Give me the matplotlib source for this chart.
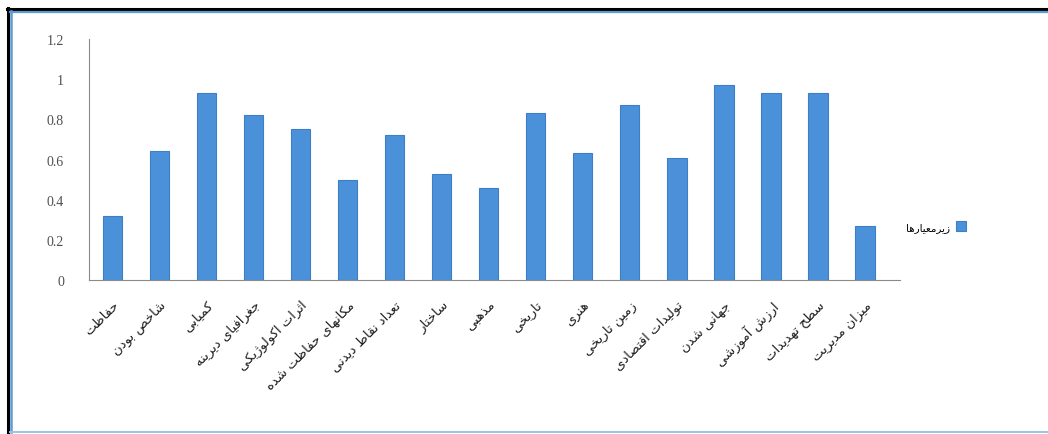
import matplotlib
matplotlib.use("Agg")
import matplotlib.pyplot as plt
from matplotlib.lines import Line2D

categories = ["حفاظت", "شاخص بودن", "کمیابی", "جغرافیای دیرینه", "اثرات اکولوژیکی",
              "مکانهای حفاظت شده", "تعداد نقاط دیدنی", "ساختار", "مذهبی", "تاریخی",
              "هنری", "زمین تاریخی", "تولیدات اقتصادی", "جهانی شدن", "ارزش آموزشی",
              "سطح تهدیدات", "میزان مدیریت"]
values = [0.32, 0.64, 0.93, 0.82, 0.75, 0.50, 0.72, 0.53, 0.46, 0.83,
          0.63, 0.87, 0.61, 0.97, 0.93, 0.93, 0.27]
series_name = "زیرمعیارها"
yticks = [0, 0.2, 0.4, 0.6, 0.8, 1.0, 1.2]
ytick_labels = ["0", "0.2", "0.4", "0.6", "0.8", "1", "1.2"]

# --- simple Arabic/Persian shaper (presentation forms) + RTL reversal ---
FORMS = {
    'ا': ('\uFE8D', '\uFE8E', None, None), 'آ': ('\uFE81', '\uFE82', None, None),
    'ب': ('\uFE8F', '\uFE90', '\uFE91', '\uFE92'), 'پ': ('\uFB56', '\uFB57', '\uFB58', '\uFB59'),
    'ت': ('\uFE95', '\uFE96', '\uFE97', '\uFE98'), 'ث': ('\uFE99', '\uFE9A', '\uFE9B', '\uFE9C'),
    'ج': ('\uFE9D', '\uFE9E', '\uFE9F', '\uFEA0'), 'چ': ('\uFB7A', '\uFB7B', '\uFB7C', '\uFB7D'),
    'ح': ('\uFEA1', '\uFEA2', '\uFEA3', '\uFEA4'), 'خ': ('\uFEA5', '\uFEA6', '\uFEA7', '\uFEA8'),
    'د': ('\uFEA9', '\uFEAA', None, None), 'ذ': ('\uFEAB', '\uFEAC', None, None),
    'ر': ('\uFEAD', '\uFEAE', None, None), 'ز': ('\uFEAF', '\uFEB0', None, None),
    'ژ': ('\uFB8A', '\uFB8B', None, None),
    'س': ('\uFEB1', '\uFEB2', '\uFEB3', '\uFEB4'), 'ش': ('\uFEB5', '\uFEB6', '\uFEB7', '\uFEB8'),
    'ص': ('\uFEB9', '\uFEBA', '\uFEBB', '\uFEBC'), 'ض': ('\uFEBD', '\uFEBE', '\uFEBF', '\uFEC0'),
    'ط': ('\uFEC1', '\uFEC2', '\uFEC3', '\uFEC4'), 'ظ': ('\uFEC5', '\uFEC6', '\uFEC7', '\uFEC8'),
    'ع': ('\uFEC9', '\uFECA', '\uFECB', '\uFECC'), 'غ': ('\uFECD', '\uFECE', '\uFECF', '\uFED0'),
    'ف': ('\uFED1', '\uFED2', '\uFED3', '\uFED4'), 'ق': ('\uFED5', '\uFED6', '\uFED7', '\uFED8'),
    'ک': ('\uFB8E', '\uFB8F', '\uFB90', '\uFB91'), 'گ': ('\uFB92', '\uFB93', '\uFB94', '\uFB95'),
    'ل': ('\uFEDD', '\uFEDE', '\uFEDF', '\uFEE0'), 'م': ('\uFEE1', '\uFEE2', '\uFEE3', '\uFEE4'),
    'ن': ('\uFEE5', '\uFEE6', '\uFEE7', '\uFEE8'), 'و': ('\uFEED', '\uFEEE', None, None),
    'ه': ('\uFEE9', '\uFEEA', '\uFEEB', '\uFEEC'), 'ی': ('\uFBFC', '\uFBFD', '\uFBFE', '\uFBFF'),
    'ئ': ('\uFE89', '\uFE8A', '\uFE8B', '\uFE8C'),
}


def shape(text):
    out = []
    n = len(text)
    for i, ch in enumerate(text):
        f = FORMS.get(ch)
        if f is None:
            out.append(ch)
            continue
        prev = text[i - 1] if i > 0 else None
        nxt = text[i + 1] if i < n - 1 else None
        join_prev = prev in FORMS and FORMS[prev][2] is not None
        join_next = f[2] is not None and nxt in FORMS
        if join_prev and join_next:
            out.append(f[3])
        elif join_prev:
            out.append(f[1])
        elif join_next:
            out.append(f[2])
        else:
            out.append(f[0])
    return ''.join(out)[::-1]


fig = plt.figure(figsize=(10.48, 4.35), dpi=100)
fig.patch.set_facecolor('white')
ax = fig.add_axes([0.085, 0.354, 0.774, 0.554])

x = list(range(len(categories)))
ax.bar(x, values, width=0.41, color='#4b91da', edgecolor='#3d7ec6', linewidth=0.8,
       label=shape(series_name), zorder=3)

ax.set_xlim(-0.5, 16.75)
ax.set_ylim(0, 1.2)
ax.set_yticks(yticks)
ax.set_yticklabels(ytick_labels, family='Liberation Serif', fontsize=10, color='#505050')
ax.tick_params(axis='y', length=0, pad=18)
ax.set_xticks(x)
ax.set_xticklabels([shape(c) for c in categories], rotation=45, ha='right',
                   rotation_mode='anchor', family='DejaVu Sans', fontsize=9.5,
                   color='#202020')
ax.tick_params(axis='x', length=0, pad=13)
for s in ['top', 'right']:
    ax.spines[s].set_visible(False)
ax.spines['left'].set_color('#8a8a8a')
ax.spines['bottom'].set_color('#8a8a8a')
ax.spines['left'].set_linewidth(0.8)
ax.spines['bottom'].set_linewidth(0.8)

leg = ax.legend(loc='center left', bbox_to_anchor=(0.995, 0.222), frameon=False,
                markerfirst=False, prop={'family': 'DejaVu Sans', 'size': 7.5},
                handlelength=1.0, handleheight=1.0, handletextpad=0.6)

# outer frame lines
W, H = 1048, 435
def fx(px): return px / W
def fy(py): return 1 - py / H
fig.add_artist(Line2D([fx(7), fx(1048)], [fy(10), fy(10)], color='black', lw=2.2))
fig.add_artist(Line2D([fx(7.5), fx(7.5)], [fy(9), fy(435)], color='black', lw=2.2))
fig.add_artist(Line2D([fx(10), fx(1048)], [fy(13), fy(13)], color='#5b9bd5', lw=1.6))
fig.add_artist(Line2D([fx(10.5), fx(10.5)], [fy(12), fy(433)], color='#5b9bd5', lw=1.8))
fig.add_artist(Line2D([fx(10), fx(1048)], [fy(432.5), fy(432.5)], color='#9cc3e8', lw=1.4))

fig.savefig('out.png', dpi=100, facecolor='white')
